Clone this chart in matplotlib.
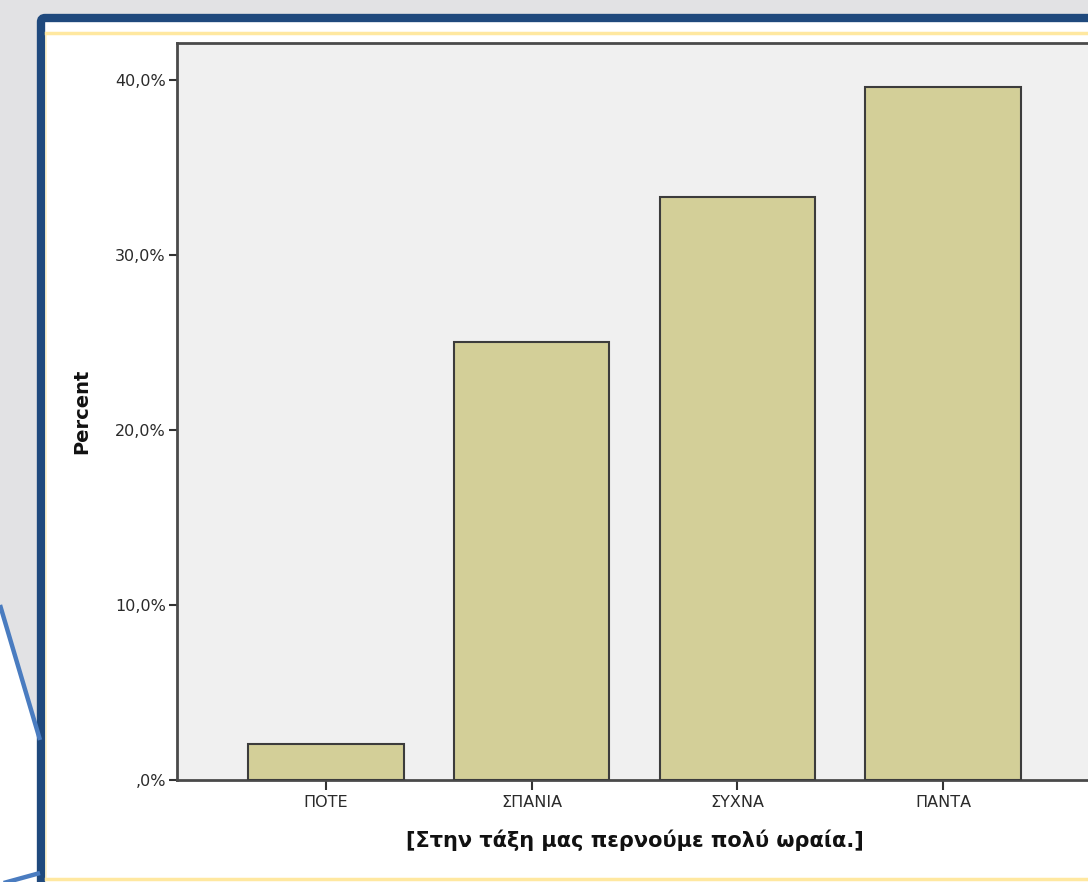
import matplotlib
matplotlib.use("Agg")
import matplotlib.pyplot as plt
import matplotlib.patches as mpatches
from matplotlib.ticker import FuncFormatter

# Data
categories = ["ΠΟΤΕ", "ΣΠΑΝΙΑ", "ΣΥΧΝΑ", "ΠΑΝΤΑ"]
percent    = [2.08, 25.0, 33.33, 39.58]
y_ticks    = [0, 10, 20, 30, 40]
x_title    = "[Στην τάξη μας περνούμε πολύ ωραία.]"
y_title    = "Percent"

# Styling
W, H       = 1088, 882
SLIDE_GRAY = "#E2E2E4"
BORDER     = "#1F497D"
LINE_BLUE  = "#4A7CC0"
YELLOW     = "#FFE8A0"
PLOT_BG    = "#F0F0F0"
BAR_FACE   = "#D3CF98"
BAR_EDGE   = "#3C3C3C"
TEXT       = "#2A2A2A"

plt.rcParams['font.family'] = ['DejaVu Sans']


def pct_label(v, _):
    # SPSS style: comma decimal, no leading zero for 0
    s = ("%.1f%%" % v).replace(".", ",")
    return s[1:] if v == 0 else s


fig = plt.figure(figsize=(W / 100, H / 100), dpi=100)
fig.patch.set_facecolor("white")

# Slide background, drawn in pixel coordinates (y down)
bg = fig.add_axes([0, 0, 1, 1], zorder=0)
bg.set_xlim(0, W)
bg.set_ylim(H, 0)
bg.axis("off")
bg.add_patch(mpatches.Rectangle((0, 0), W, H, facecolor=SLIDE_GRAY, edgecolor="none"))
bg.add_patch(mpatches.Polygon([(0, 605), (40, 740), (40, H), (0, H)],
                              facecolor="white", edgecolor="none"))
bg.plot([0, 40], [605, 740], color=LINE_BLUE, lw=3.2, solid_capstyle="butt")
bg.plot([0, 40], [H + 2, 873], color=LINE_BLUE, lw=3.2, solid_capstyle="butt")
# panel with dark blue frame
bg.add_patch(mpatches.FancyBboxPatch((41, 18), W + 20, H + 20,
                                     boxstyle="round,pad=0,rounding_size=4",
                                     facecolor="white", edgecolor=BORDER, lw=6))
# thin yellow inner rule
bg.plot([46, W], [33, 33], color=YELLOW, lw=2.5)
bg.plot([46, W], [879, 879], color=YELLOW, lw=2.5)
bg.plot([46, 46], [33, 879], color=YELLOW, lw=1.2, alpha=0.6)

# Chart
ax = fig.add_axes([177 / W, (H - 780) / H, (1092 - 177) / W, (780 - 43) / H], zorder=2)
ax.set_facecolor(PLOT_BG)
x = list(range(len(categories)))
ax.bar(x, percent, width=0.757, color=BAR_FACE, edgecolor=BAR_EDGE, linewidth=1.5, zorder=3)

ax.set_xlim(-0.7233, len(categories) - 1 + 0.7233)
ax.set_ylim(0, 42.11)
ax.set_yticks(y_ticks)
ax.yaxis.set_major_formatter(FuncFormatter(pct_label))
ax.set_xticks(x)
ax.set_xticklabels(categories)

for side in ["left", "top", "bottom", "right"]:
    ax.spines[side].set_color("#4A4A4A")
    ax.spines[side].set_linewidth(2.0)

ax.tick_params(axis="y", direction="out", length=6, width=1.5, color="#333333",
               labelsize=11.5, labelcolor=TEXT, pad=2)
ax.tick_params(axis="x", direction="out", length=7, width=1.5, color="#333333",
               labelsize=11.5, labelcolor=TEXT, pad=4)

ax.set_xlabel(x_title, fontsize=15, fontweight="bold", color="#111111", labelpad=14)
ax.set_ylabel(y_title, fontsize=14, fontweight="bold", color="#111111", labelpad=17)

fig.savefig("out.png", dpi=100)
